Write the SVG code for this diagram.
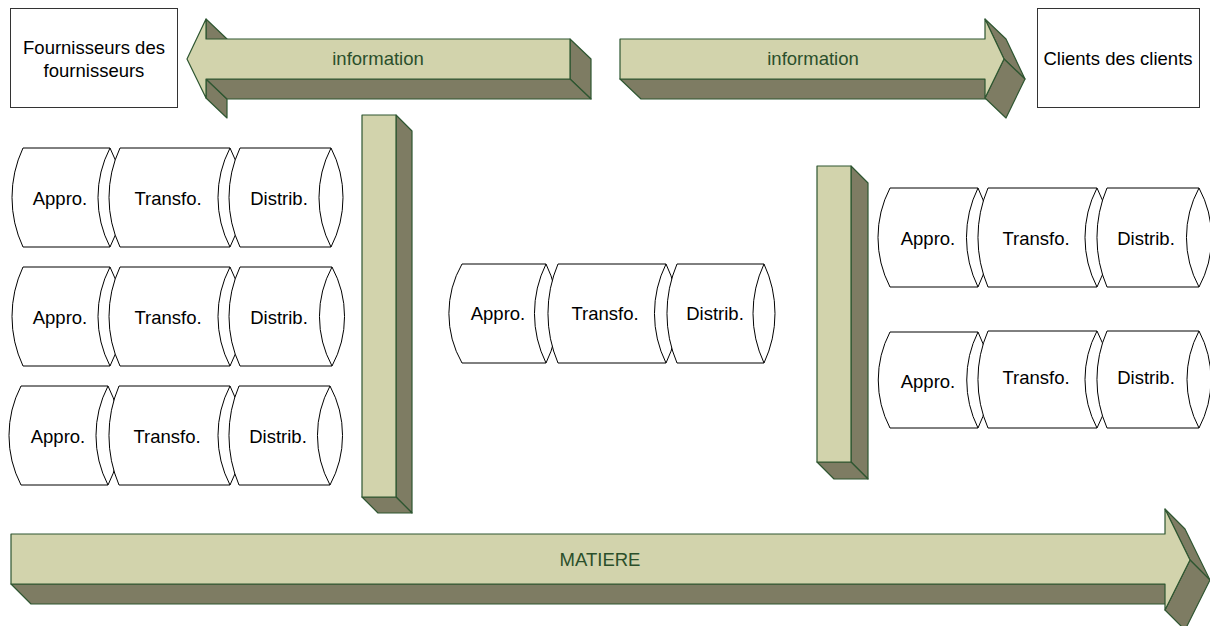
<svg xmlns="http://www.w3.org/2000/svg" width="1210" height="626" viewBox="0 0 1210 626">
<style>
.lt{fill:#d2d3ac;stroke:#2e5631;stroke-width:1.2;stroke-linejoin:round}
.dk{fill:#7e7c63;stroke:#2e5631;stroke-width:1.2;stroke-linejoin:round}
.box{fill:#fff;stroke:#333;stroke-width:1}
.cyl{fill:#fff;stroke:#000;stroke-width:1}
.t{font-family:"Liberation Sans",Arial,sans-serif;font-size:18.5px;fill:#000;text-anchor:middle}
.g{fill:#2b4f2b}
</style>
<rect width="1210" height="626" fill="#fff"/>

<g id="box-fournisseurs">
<rect class="box" x="10.5" y="8.5" width="167" height="99"/>
<text class="t" x="94" y="54">Fournisseurs des</text>
<text class="t" x="94" y="77">fournisseurs</text>
</g>
<g id="box-clients">
<rect class="box" x="1037.5" y="8.5" width="162" height="99"/>
<text class="t" x="1118" y="65">Clients des clients</text>
</g>

<g id="connectors">
<g id="arrow-info-left">
<polygon class="dk" points="206,19 227,39 227,59 206,39"/>
<polygon class="dk" points="206,79 227,99 227,118 206,98"/>
<polygon class="dk" points="570,39 591,59 591,99 570,79"/>
<polygon class="dk" points="206,79 570,79 591,99 227,99"/>
<polygon class="lt" points="187,59 206,19 206,39 570,39 570,79 206,79 206,98"/>
<text class="t g" x="378" y="65">information</text>
</g>
<g id="arrow-info-right">
<polygon class="dk" points="620,79 985,79 1006,99 641,99"/>
<polygon class="dk" points="985,19 1006,39 1025,79 1004,59"/>
<polygon class="dk" points="1004,59 1025,79 1006,118 985,98"/>
<polygon class="lt" points="620,39 985,39 985,19 1004,59 985,98 985,79 620,79"/>
<text class="t g" x="813" y="65">information</text>
</g>
<g id="bar-left">
<polygon class="dk" points="396,115 412,131 412,513 396,497"/>
<polygon class="dk" points="362,497 396,497 412,513 378,513"/>
<rect class="lt" x="362" y="115" width="34" height="382"/>
</g>
<g id="bar-right">
<polygon class="dk" points="851,166 868,183 868,479 851,462"/>
<polygon class="dk" points="817,462 851,462 868,479 834,479"/>
<rect class="lt" x="817" y="166" width="34" height="296"/>
</g>
<g id="arrow-matiere">
<polygon class="dk" points="11,584 1165,584 1185,604 31,604"/>
<polygon class="dk" points="1165,509 1185,529 1210,580 1190,560"/>
<polygon class="dk" points="1190,560 1210,580 1185,630 1165,610"/>
<polygon class="lt" points="11,534 1165,534 1165,509 1190,560 1165,610 1165,584 11,584"/>
<text class="t g" x="600" y="566">MATIERE</text>
</g>
</g>

<!-- left column row 1 -->
<g id="l1-appro"><path class="cyl" d="M23,148 L110,148 A108,108 0 0 1 110,247 L23,247 A117,117 0 0 1 23,148 Z M110,148 A108,108 0 0 0 110,247"/><text class="t" x="60" y="205">Appro.</text></g>
<g id="l1-transfo"><path class="cyl" d="M120,148 L230,148 A108,108 0 0 1 230,247 L120,247 A117,117 0 0 1 120,148 Z M230,148 A108,108 0 0 0 230,247"/><text class="t" x="168" y="205">Transfo.</text></g>
<g id="l1-distrib"><path class="cyl" d="M240,148 L331,148 A108,108 0 0 1 331,247 L240,247 A117,117 0 0 1 240,148 Z M331,148 A108,108 0 0 0 331,247"/><text class="t" x="279" y="205">Distrib.</text></g>
<!-- left column row 2 -->
<g id="l2-appro"><path class="cyl" d="M23,267 L110,267 A108,108 0 0 1 110,366 L23,366 A117,117 0 0 1 23,267 Z M110,267 A108,108 0 0 0 110,366"/><text class="t" x="60" y="324">Appro.</text></g>
<g id="l2-transfo"><path class="cyl" d="M120,267 L230,267 A108,108 0 0 1 230,366 L120,366 A117,117 0 0 1 120,267 Z M230,267 A108,108 0 0 0 230,366"/><text class="t" x="168" y="324">Transfo.</text></g>
<g id="l2-distrib"><path class="cyl" d="M240,267 L332,267 A104,104 0 0 1 332,366 L240,366 A117,117 0 0 1 240,267 Z M332,267 A104,104 0 0 0 332,366"/><text class="t" x="279" y="324">Distrib.</text></g>
<!-- left column row 3 -->
<g id="l3-appro"><path class="cyl" d="M21,386 L108,386 A108,108 0 0 1 108,485 L21,485 A108,108 0 0 1 21,386 Z M108,386 A108,108 0 0 0 108,485"/><text class="t" x="58" y="443">Appro.</text></g>
<g id="l3-transfo"><path class="cyl" d="M119,386 L230,386 A108,108 0 0 1 230,485 L119,485 A127,127 0 0 1 119,386 Z M230,386 A108,108 0 0 0 230,485"/><text class="t" x="167" y="443">Transfo.</text></g>
<g id="l3-distrib"><path class="cyl" d="M239,386 L330,386 A104,104 0 0 1 330,485 L239,485 A127,127 0 0 1 239,386 Z M330,386 A104,104 0 0 0 330,485"/><text class="t" x="278" y="443">Distrib.</text></g>
<!-- center -->
<g id="c-appro"><path class="cyl" d="M462,264 L546,264 A112,112 0 0 1 546,363 L462,363 A100,100 0 0 1 462,264 Z M546,264 A112,112 0 0 0 546,363"/><text class="t" x="498" y="320">Appro.</text></g>
<g id="c-transfo"><path class="cyl" d="M558,264 L666,264 A112,112 0 0 1 666,363 L558,363 A127,127 0 0 1 558,264 Z M666,264 A112,112 0 0 0 666,363"/><text class="t" x="605" y="320">Transfo.</text></g>
<g id="c-distrib"><path class="cyl" d="M677,264 L764,264 A117,117 0 0 1 764,363 L677,363 A127,127 0 0 1 677,264 Z M764,264 A117,117 0 0 0 764,363"/><text class="t" x="715" y="320">Distrib.</text></g>
<!-- right row A -->
<g id="rA-appro"><path class="cyl" d="M890,188 L978,188 A112,112 0 0 1 978,287 L890,287 A108,108 0 0 1 890,188 Z M978,188 A112,112 0 0 0 978,287"/><text class="t" x="928" y="245">Appro.</text></g>
<g id="rA-transfo"><path class="cyl" d="M988,188 L1097,188 A108,108 0 0 1 1097,287 L988,287 A127,127 0 0 1 988,188 Z M1097,188 A108,108 0 0 0 1097,287"/><text class="t" x="1036" y="245">Transfo.</text></g>
<g id="rA-distrib"><path class="cyl" d="M1107,188 L1199,188 A104,104 0 0 1 1199,287 L1107,287 A127,127 0 0 1 1107,188 Z M1199,188 A104,104 0 0 0 1199,287"/><text class="t" x="1146" y="245">Distrib.</text></g>
<!-- right row B -->
<g id="rB-appro"><path class="cyl" d="M890,332 L978,332 A108,108 0 0 1 978,428 L890,428 A104,104 0 0 1 890,332 Z M978,332 A108,108 0 0 0 978,428"/><text class="t" x="928" y="388">Appro.</text></g>
<g id="rB-transfo"><path class="cyl" d="M988,331 L1097,331 A104,104 0 0 1 1097,428 L988,428 A122,122 0 0 1 988,331 Z M1097,331 A104,104 0 0 0 1097,428"/><text class="t" x="1036" y="384">Transfo.</text></g>
<g id="rB-distrib"><path class="cyl" d="M1107,331 L1199,331 A104,104 0 0 1 1199,428 L1107,428 A122,122 0 0 1 1107,331 Z M1199,331 A104,104 0 0 0 1199,428"/><text class="t" x="1146" y="384">Distrib.</text></g>
</svg>
